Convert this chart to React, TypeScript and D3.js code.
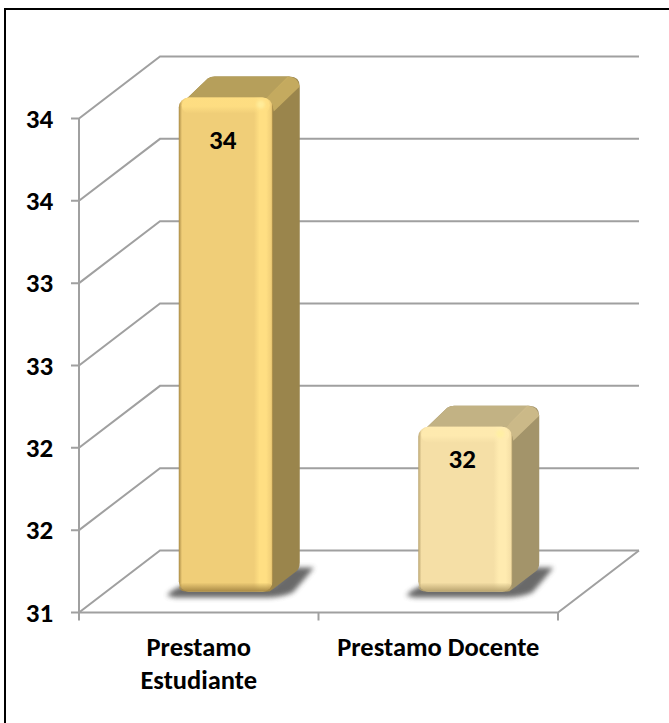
import React from "react";
import * as d3 from "d3";

const categories = ["Prestamo Estudiante", "Prestamo Docente"];
const categoryLines = [["Prestamo", "Estudiante"], ["Prestamo Docente"]];
const values = [34, 32];
const yTicks = [31, 31.5, 32, 32.5, 33, 33.5, 34];
const frontColors = ["#F0CE78", "#F5DFA6"];
const brightColors = ["#FFDF83", "#FFEBB0"];
const topColors = ["#B69F5B", "#C2B284"];
const sideColors = ["#9A854C", "#A3946A"];
const rimColors = ["#C9AE62", "#CFBD8C"];
const edgeColors = ["#A98A45", "#B9A46F"];
const labelOffsets = [30, 20];

const W = 669, H = 723;
const grid = "#A0A0A0";
const font = "Calibri, Carlito, 'Open Sans', sans-serif";
const depthX = 81, depthY = 62;
const barDX = 27, barDY = 21;
const barFrontW = 94;

export default function App() {
  const y = d3.scaleLinear().domain([31, 34]).range([612.5, 118.5]);
  const x = d3.scaleBand<string>().domain(categories).range([79, 558]);
  const fmt = (v: number) => d3.format(".0f")(Math.round(v));
  const x0 = x.range()[0], x1 = x.range()[1];
  const yFloor = y(31);
  return (
    <svg width={W} height={H} style={{ position: "absolute", left: 0, top: 0, background: "#fff" }} fontFamily={font}>
      <defs>
        <filter id="shadow" x="-20%" y="-50%" width="140%" height="200%"><feGaussianBlur stdDeviation="2.4" /></filter>
        <filter id="soft" x="-20%" y="-20%" width="140%" height="140%"><feGaussianBlur stdDeviation="1.6" /></filter>
        {categories.map((_, i) => (
          <React.Fragment key={i}>
            <linearGradient id={`h${i}`} x1="0" x2="1" y1="0" y2="0">
              <stop offset="0" stopColor={edgeColors[i]} />
              <stop offset="0.035" stopColor={frontColors[i]} />
              <stop offset="0.8" stopColor={frontColors[i]} />
              <stop offset="0.86" stopColor={brightColors[i]} />
              <stop offset="0.93" stopColor={brightColors[i]} />
              <stop offset="0.985" stopColor={frontColors[i]} />
              <stop offset="1" stopColor={edgeColors[i]} />
            </linearGradient>
            <linearGradient id={`v${i}`} x1="0" x2="0" y1="0" y2="1">
              <stop offset="0" stopColor={brightColors[i]} stopOpacity="0.9" />
              <stop offset="0.55" stopColor={brightColors[i]} stopOpacity="0.9" />
              <stop offset="1" stopColor={brightColors[i]} stopOpacity="0" />
            </linearGradient>
            <linearGradient id={`b${i}`} x1="0" x2="0" y1="0" y2="1">
              <stop offset="0" stopColor={edgeColors[i]} stopOpacity="0" />
              <stop offset="1" stopColor={edgeColors[i]} stopOpacity="1" />
            </linearGradient>
          </React.Fragment>
        ))}
      </defs>

      <path d="M5,723V9H669" fill="none" stroke="#000" strokeWidth={2} />

      <g stroke={grid} strokeWidth={2} fill="none">
        {yTicks.map((t) => (
          <path key={t} d={`M${x0 - 8},${y(t)}H${x0}L${x0 + depthX},${y(t) - depthY}H${x1 + depthX}`} />
        ))}
        <path d={`M${x0},${y(34)}V${yFloor}H${x1}L${x1 + depthX},${yFloor - depthY}`} />
        {[x0, x0 + x.step(), x1].map((v) => <path key={v} d={`M${v},${yFloor}v8`} />)}
      </g>

      {categories.map((c, i) => {
        const bx0 = (x(c) as number) + (x.bandwidth() - barFrontW) / 2 + barDX;
        const bx1 = bx0 + barFrontW;
        const top = y(values[i]) - barDY;
        const bot = yFloor - barDY;
        const r = 10;
        const backTop = top - barDY;
        const backR = bx1 + barDX;
        const backBot = bot - barDY;
        return (
          <g key={c}>
            <path
              d={`M${bx0 - 12},${bot + 4}Q${bx0 - 6},${bot - 3} ${bx0 + 5},${bot - 6}H${bx1}L${backR - 8},${backBot - 3}H${backR + 14}Q${backR + 9},${backBot + 4} ${bx1 + 20},${bot + 1}Q${bx1 + 8},${bot + 6} ${bx1 - 6},${bot + 6}H${bx0 - 4}Z`}
              fill="#4f4f4f" opacity={0.85} filter="url(#shadow)"
            />
            <path
              d={`M${bx0 + 5},${top + 4}L${bx0 + barDX + 2},${backTop + 2}Q${bx0 + barDX + 5},${backTop} ${bx0 + barDX + 9},${backTop}H${backR - 10}Q${backR},${backTop} ${backR},${backTop + 10}V${backBot - 8}Q${backR},${backBot - 1} ${backR - 5},${backBot + 2}L${bx1 - 3},${bot}H${bx0 + 8}Z`}
              fill={sideColors[i]}
            />
            <path
              d={`M${bx0 + 5},${top + 4}L${bx0 + barDX + 2},${backTop + 2}Q${bx0 + barDX + 5},${backTop} ${bx0 + barDX + 9},${backTop}H${backR - 10}L${bx1 - 8},${top + 2}Z`}
              fill={topColors[i]}
            />
            <path
              d={`M${bx1 - 8},${top + 2}L${backR - 12},${backTop}Q${backR - 2},${backTop} ${backR},${backTop + 10}L${bx1 + 1},${top + 14}Q${bx1},${top + 4} ${bx1 - 8},${top + 2}Z`}
              fill={rimColors[i]} opacity={0.9}
            />
            <rect x={bx0} y={top} width={barFrontW} height={bot - top} rx={r} fill={`url(#h${i})`} />
            <rect x={bx0 + 3} y={top} width={barFrontW - 6} height={16} rx={8} fill={`url(#v${i})`} />
            <rect x={bx0} y={bot - 9} width={barFrontW} height={9} rx={8} fill={`url(#b${i})`} />
            <circle cx={bx1 - 12} cy={top + 7} r={4} fill="#FFF0A0" opacity={0.8} filter="url(#soft)" />
            <text x={bx0 + 44} y={y(values[i]) + labelOffsets[i]} fontSize={27} fontWeight={700} textAnchor="middle" fill="#000">{values[i]}</text>
          </g>
        );
      })}

      {yTicks.map((t) => (
        <text key={t} x={39.5} y={y(t) + 9} fontSize={27} fontWeight={700} textAnchor="middle" fill="#000">{fmt(t)}</text>
      ))}
      {categories.map((c, i) => categoryLines[i].map((line, k) => (
        <text key={line} x={(x(c) as number) + x.bandwidth() / 2} y={656 + k * 33} fontSize={26.5} fontWeight={700} textAnchor="middle" fill="#000">{line}</text>
      )))}
    </svg>
  );
}
